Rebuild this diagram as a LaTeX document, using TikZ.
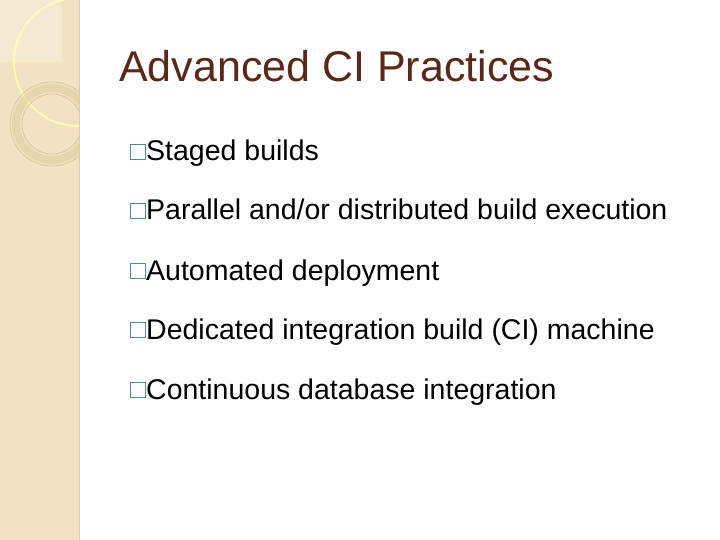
\documentclass[tikz,border=0pt]{standalone}
\usepackage{fontspec}
\setmainfont{Liberation Sans}
\definecolor{band}{RGB}{240,226,194}
\definecolor{ringc}{RGB}{225,205,160}
\definecolor{ringl}{RGB}{205,180,135}
\definecolor{bulc}{RGB}{80,140,155}
\definecolor{titc}{RGB}{90,40,25}
\begin{document}
\begin{tikzpicture}[x=1pt,y=-1pt,
  item/.style={anchor=base west,inner sep=0pt,font=\fontsize{28.5}{32}\selectfont,text=black},
  bul/.style={draw=bulc,line width=1pt,minimum size=15pt,inner sep=0pt}]
\useasboundingbox (0,0) rectangle (720,540);
\fill[white] (0,0) rectangle (720,540);
\fill[band] (0,0) rectangle (79,540);
\begin{scope}
\clip (0,0) rectangle (79,540);
\fill[white,opacity=0.3] (0,0) rectangle (62,62);
\draw[white!70!yellow,line width=2pt] (78,62) circle (64);
\draw[ringc,line width=8pt,opacity=0.6] (52,124) circle (36);
\draw[ringl,line width=0.4pt] (52,124) circle (42);
\draw[ringl,line width=0.4pt] (52,124) circle (30);
\end{scope}
\draw[ringc] (79,0) -- (79,540);
\node[anchor=base west,inner sep=0pt,font=\fontsize{43}{47}\selectfont,text=titc] (t) at (119,82) {Advanced CI Practices};
\foreach \y/\s [count=\i] in {161/{Staged builds},220/{Parallel and/or distributed build execution},280/{Automated deployment},339/{Dedicated integration build (CI) machine},399/{Continuous database integration}}{
  \node[bul] (b\i) at (138,\y-9) {};
  \node[item] (l\i) at (146,\y) {\s};
}
\end{tikzpicture}
\end{document}
